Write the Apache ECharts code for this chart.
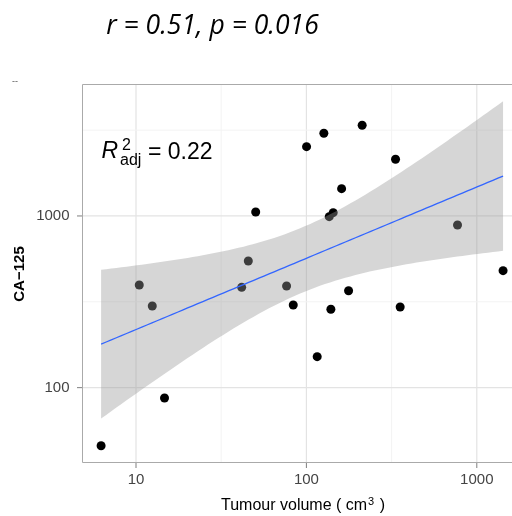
<!DOCTYPE html>
<html><head><meta charset="utf-8">
<script src="https://cdn.jsdelivr.net/npm/echarts@6/dist/echarts.min.js"></script>
<style>html,body{margin:0;padding:0;background:#fff}#c{width:512px;height:516px}</style>
</head><body><div id="c"></div>
<script>
// Data
const tumourVolume = [6.24, 10.45, 12.46, 14.7, 41.7, 45.6, 50.4, 76.5, 83.7, 100.2, 115.7, 126.6, 136.1, 143.6, 139.2, 160.9, 176.8, 212.4, 333.5, 355, 770.6, 1426];
const ca125 = [45.9, 396, 299, 87.1, 384, 547, 1055, 391, 303, 2533, 151.5, 3031, 991, 1045, 286, 1442, 367, 3374, 2138, 295, 886, 480];
const xTickValues = [10, 100, 1000];
const yTickValues = [100, 1000];
const xMinorGrid = [31.62, 316.2];
const yMinorGrid = [316.2, 3162];
const titleText = 'r = 0.51, p = 0.016';
const yAxisTitle = 'CA\u2212125';
const r2Value = '= 0.22';

// Linear fit in log10-log10 space with 95% confidence band (like geom_smooth(method = "lm"))
const lx = tumourVolume.map(Math.log10), ly = ca125.map(Math.log10);
const n = lx.length;
const mx = lx.reduce((s, v) => s + v, 0) / n;
const my = ly.reduce((s, v) => s + v, 0) / n;
let sxx = 0, sxy = 0;
for (let i = 0; i < n; i++) { sxx += (lx[i] - mx) ** 2; sxy += (lx[i] - mx) * (ly[i] - my); }
const slope = sxy / sxx, intercept = my - slope * mx;
let sse = 0;
for (let i = 0; i < n; i++) sse += (ly[i] - intercept - slope * lx[i]) ** 2;
const sigma = Math.sqrt(sse / (n - 2));
const tCrit = 2.086; // qt(0.975, df = 20)
const fitLine = [], bandUpper = [], bandLower = [];
const lxMin = Math.min(...lx), lxMax = Math.max(...lx);
const nFit = 80;
for (let i = 0; i < nFit; i++) {
  const x = lxMin + (lxMax - lxMin) * i / (nFit - 1);
  const yh = intercept + slope * x;
  const se = sigma * Math.sqrt(1 / n + (x - mx) ** 2 / sxx);
  fitLine.push([10 ** x, 10 ** yh]);
  bandUpper.push([10 ** x, 10 ** (yh + tCrit * se)]);
  bandLower.push([10 ** x, 10 ** (yh - tCrit * se)]);
}

const labelFont = '"Liberation Sans", Arial, sans-serif';
const tickFont = '15px ' + labelFont;
const yRef = 100, xRef = 10;

const chart = echarts.init(document.getElementById('c'), null, {renderer: 'canvas'});
const option = {
  animation: false,
  backgroundColor: '#ffffff',
  grid: {left: 82, top: 84, right: 0, height: 379, show: false},
  xAxis: {
    type: 'log', logBase: 10, min: 4.82, max: 1609,
    axisLine: {show: false}, axisTick: {show: false}, axisLabel: {show: false}, splitLine: {show: false}
  },
  yAxis: {
    type: 'log', logBase: 10, min: 36.4, max: 5870,
    axisLine: {show: false}, axisTick: {show: false}, axisLabel: {show: false}, splitLine: {show: false}
  },
  series: [
    { // x grid lines, ticks and labels
      type: 'custom', z: 1, silent: true, clip: false,
      data: xTickValues.map(v => [v, yRef, 1]).concat(xMinorGrid.map(v => [v, yRef, 0])),
      renderItem: function (params, api) {
        const cs = params.coordSys;
        const v = api.value(0), major = api.value(2);
        const px = api.coord([v, api.value(1)])[0];
        const top = cs.y, bottom = cs.y + cs.height;
        const children = [{type: 'line', shape: {x1: px, y1: top, x2: px, y2: bottom}, style: {stroke: major ? '#e3e3e3' : '#f3f3f3', lineWidth: major ? 1.2 : 1}}];
        if (major) {
          children.push({type: 'line', shape: {x1: px, y1: bottom, x2: px, y2: bottom + 5}, style: {stroke: '#7f7f7f', lineWidth: 1}});
          children.push({type: 'text', style: {text: String(v), x: px, y: bottom + 17, align: 'center', verticalAlign: 'middle', font: tickFont, fill: '#444444'}});
        }
        return {type: 'group', children: children};
      }
    },
    { // y grid lines, ticks and labels
      type: 'custom', z: 1, silent: true, clip: false,
      data: yTickValues.map(v => [xRef, v, 1]).concat(yMinorGrid.map(v => [xRef, v, 0])),
      renderItem: function (params, api) {
        const cs = params.coordSys;
        const v = api.value(1), major = api.value(2);
        const py = api.coord([api.value(0), v])[1];
        const left = cs.x, right = cs.x + cs.width;
        const children = [{type: 'line', shape: {x1: left, y1: py, x2: right, y2: py}, style: {stroke: major ? '#e3e3e3' : '#f3f3f3', lineWidth: major ? 1.2 : 1}}];
        if (major) {
          children.push({type: 'line', shape: {x1: left - 5, y1: py, x2: left, y2: py}, style: {stroke: '#7f7f7f', lineWidth: 1}});
          children.push({type: 'text', style: {text: String(v), x: left - 12.5, y: py, align: 'right', verticalAlign: 'middle', font: tickFont, fill: '#444444'}});
        }
        return {type: 'group', children: children};
      }
    },
    { // panel border (top, left, bottom; the right side lies beyond the picture)
      type: 'custom', z: 1, silent: true, clip: false,
      data: [[xRef, yRef]],
      renderItem: function (params, api) {
        const cs = params.coordSys;
        const l = cs.x + 0.5, t = cs.y + 0.5, b = cs.y + cs.height - 0.5, r = cs.x + cs.width + 2;
        return {type: 'polyline', shape: {points: [[r, t], [l, t], [l, b], [r, b]]}, style: {stroke: '#aaaaaa', lineWidth: 1, fill: null}};
      }
    },
    {
      type: 'scatter', z: 2, symbol: 'circle', symbolSize: 9,
      itemStyle: {color: '#000000', opacity: 1},
      data: tumourVolume.map((v, i) => [v, ca125[i]])
    },
    {
      type: 'custom', z: 3, silent: true, clip: true,
      data: [[bandUpper[0][0], bandUpper[0][1]]],
      renderItem: function (params, api) {
        const pts = bandUpper.map(p => api.coord(p)).concat(bandLower.slice().reverse().map(p => api.coord(p)));
        return {type: 'polygon', shape: {points: pts}, style: {fill: 'rgba(153,153,153,0.4)', stroke: null}};
      }
    },
    {
      type: 'line', z: 4, showSymbol: false, symbol: 'none', silent: true,
      lineStyle: {color: '#3366FF', width: 1.3},
      data: fitLine
    }
  ],
  graphic: [
    {type: 'text', style: {text: titleText, x: 212.5, y: 26, align: 'center', verticalAlign: 'middle', font: 'italic 26.5px "Open Sans", sans-serif', fill: '#000'}},
    {type: 'text', style: {text: '--', x: 15, y: 82, align: 'center', verticalAlign: 'middle', font: '9px ' + labelFont, fill: '#555'}},
    {type: 'text', z: 10, style: {text: 'R', x: 101.5, y: 152, align: 'left', verticalAlign: 'middle', font: 'italic 23px ' + labelFont, fill: '#000'}},
    {type: 'text', z: 10, style: {text: '2', x: 122, y: 146, align: 'left', verticalAlign: 'middle', font: '16px ' + labelFont, fill: '#000'}},
    {type: 'text', z: 10, style: {text: 'adj', x: 120, y: 161, align: 'left', verticalAlign: 'middle', font: '16px ' + labelFont, fill: '#000'}},
    {type: 'text', z: 10, style: {text: r2Value, x: 148, y: 152.5, align: 'left', verticalAlign: 'middle', font: '23px ' + labelFont, fill: '#000'}},
    {type: 'text', style: {
      text: '{a|Tumour volume ( cm}{s|3}{a| )}', x: 303, y: 506, align: 'center', verticalAlign: 'middle',
      rich: {a: {fontSize: 16, fontFamily: labelFont, fill: '#000', lineHeight: 20}, s: {fontSize: 11, fontFamily: labelFont, fill: '#000', verticalAlign: 'top', lineHeight: 12, padding: [0, 1, 0, 1]}}
    }},
    {type: 'text', x: 20, y: 274, rotation: Math.PI / 2, style: {text: yAxisTitle, x: 0, y: 0, align: 'center', verticalAlign: 'middle', font: 'bold 15px ' + labelFont, fill: '#000'}}
  ]
};
chart.setOption(option);
</script></body></html>
